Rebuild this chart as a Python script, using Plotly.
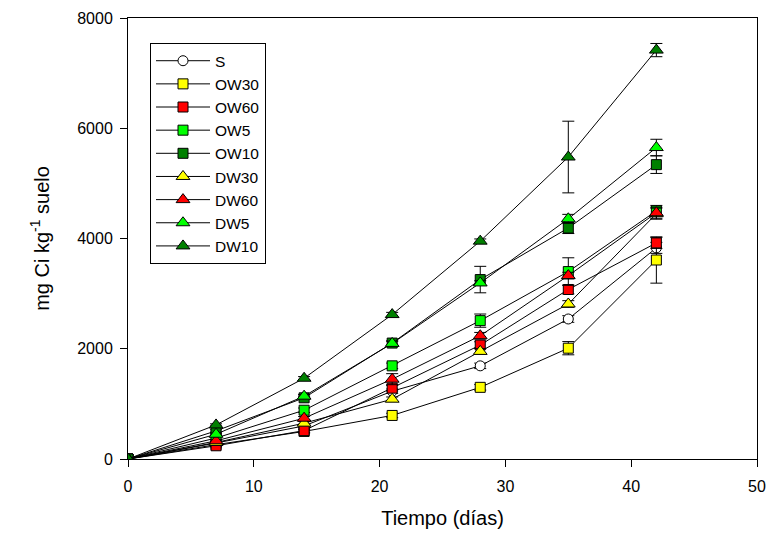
import plotly.graph_objects as go

days = [0, 7, 14, 21, 28, 35, 42]

names = ["S", "OW30", "OW60", "OW5", "OW10", "DW30", "DW60", "DW5", "DW10"]

S = [0, 290, 600, 1230, 1690, 2540, 3830]
OW30 = [0, 260, 500, 790, 1300, 2010, 3610]
OW60 = [0, 240, 515, 1285, 2067, 3075, 3920]
OW5 = [0, 380, 885, 1690, 2510, 3400, 4500]
OW10 = [0, 510, 1110, 2103, 3255, 4190, 5340]
DW30 = [0, 300, 650, 1085, 1952, 2812, 4450]
DW60 = [0, 330, 740, 1448, 2236, 3327, 4467]
DW5 = [0, 449, 1140, 2097, 3194, 4358, 5650]
DW10 = [0, 618, 1465, 2620, 3952, 5478, 7418]

S_err = [0, 20, 30, 40, 50, 60, 100]
OW30_err = [0, 20, 30, 40, 50, 120, 420]
OW60_err = [0, 20, 30, 50, 60, 80, 100]
OW5_err = [0, 20, 40, 50, 120, 250, 100]
OW10_err = [0, 20, 30, 40, 240, 100, 160]
DW30_err = [0, 20, 30, 40, 50, 60, 100]
DW60_err = [0, 20, 30, 100, 60, 60, 100]
DW5_err = [0, 20, 30, 40, 40, 80, 150]
DW10_err = [0, 20, 30, 40, 40, 650, 120]

values = [S, OW30, OW60, OW5, OW10, DW30, DW60, DW5, DW10]
errors = [S_err, OW30_err, OW60_err, OW5_err, OW10_err, DW30_err, DW60_err, DW5_err, DW10_err]
colors = ["#FFFFFF", "#FFFF00", "#FF0000", "#00FF00", "#008000",
          "#FFFF00", "#FF0000", "#00FF00", "#008000"]
symbols = ["circle", "square", "square", "square", "square",
           "triangle-up", "triangle-up", "triangle-up", "triangle-up"]
sizes = [10, 10, 10, 10, 10, 12, 12, 12, 12]

fig = go.Figure()
for n, v, e, c, s, sz in zip(names, values, errors, colors, symbols, sizes):
    fig.add_trace(go.Scatter(
        x=days, y=v, name=n, mode="lines+markers",
        line=dict(color="black", width=1),
        marker=dict(symbol=s, size=sz, color=c, line=dict(color="black", width=1)),
        error_y=dict(type="data", array=e, visible=True, color="black",
                     thickness=1, width=6),
    ))

font = "Liberation Sans, Arial, sans-serif"
fig.update_layout(
    width=768, height=533,
    margin=dict(l=128, r=11, t=18, b=74),
    plot_bgcolor="white", paper_bgcolor="white",
    font=dict(family=font, size=16, color="black"),
    showlegend=True,
    legend=dict(x=0.035, y=0.943, xanchor="left", yanchor="top",
                bordercolor="black", borderwidth=1, bgcolor="white",
                font=dict(family=font, size=15.5), tracegroupgap=0,
                itemwidth=54),
    xaxis=dict(range=[0, 50], tickvals=[0, 10, 20, 30, 40, 50],
               showline=True, linecolor="black", linewidth=1, mirror=True,
               ticks="outside", ticklen=7, tickcolor="black", ticklabelstandoff=6,
               showgrid=False, zeroline=False, tickfont=dict(size=16),
               automargin=False,
               title=dict(text="Tiempo (días)", font=dict(size=20), standoff=16)),
    yaxis=dict(range=[0, 8000], tickvals=[0, 2000, 4000, 6000, 8000],
               showline=True, linecolor="black", linewidth=1, mirror=True,
               ticks="outside", ticklen=7, tickcolor="black", ticklabelstandoff=4,
               showgrid=False, zeroline=False, tickfont=dict(size=16),
               automargin=False,
               title=dict(text="mg Ci kg<sup>-1</sup> suelo", font=dict(size=20), standoff=22)),
)

fig.write_html("out.html")
